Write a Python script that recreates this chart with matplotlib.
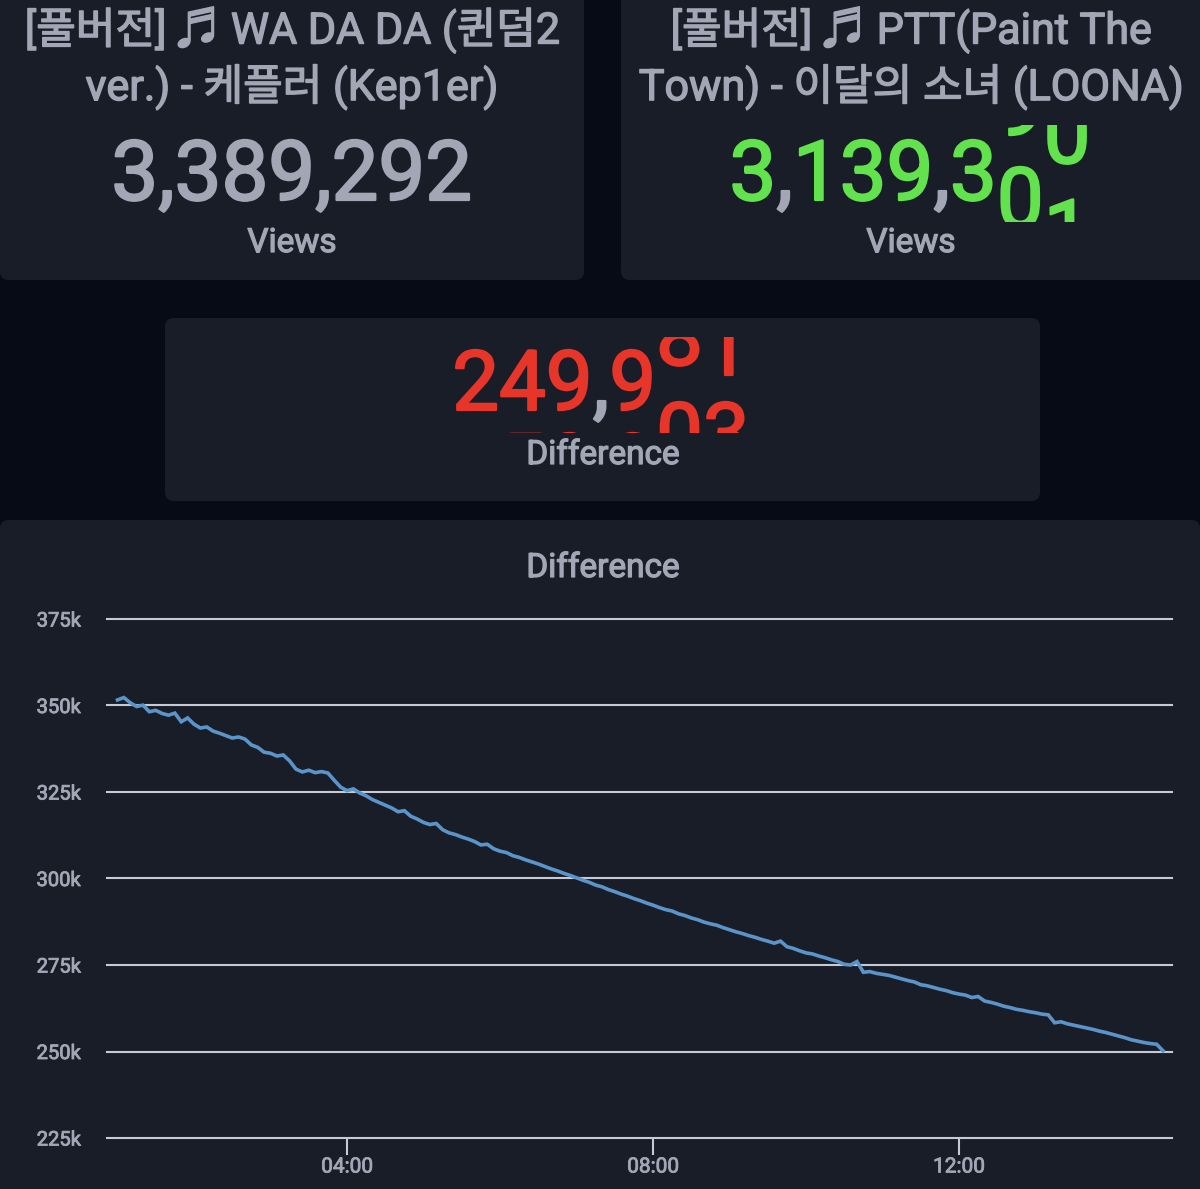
import matplotlib
matplotlib.use("Agg")
import matplotlib.pyplot as plt
import matplotlib.patheffects as pe
import numpy as np
from matplotlib.patches import FancyBboxPatch
from matplotlib.transforms import Bbox

plt.rcParams["font.family"] = ["Roboto", "Noto Sans CJK KR", "DejaVu Sans"]

# ---- data -------------------------------------------------------------
left_title = ["[풀버전] ♬ WA DA DA (퀸덤2", "ver.) - 케플러 (Kep1er)"]
right_title = ["[풀버전] ♬ PTT(Paint The", "Town) - 이달의 소녀 (LOONA)"]
left_views = "3,389,292"
# odometer state of the counters while they roll: upper / lower digit per column
right_upper = ["3", ",", "1", "3", "9", ",", "3", "9", "0"]
right_lower = ["", "", "", "", "", "", "", "0", "1"]
diff_upper = ["2", "4", "9", ",", "9", "8", "1"]
diff_lower = ["", "5", "0", "", "0", "0", "3"]

# difference (thousands of views), one value every 5 minutes from 01:00
diff_k = [
    351.6, 352.3, 350.8, 349.7, 350.1, 348.2, 348.6, 347.7, 347.2, 347.8, 345.3, 346.4,  # 01h
    344.6, 343.5, 343.8, 342.6, 342.0, 341.3, 340.6, 340.9, 340.3, 338.6, 337.9, 336.5,  # 02h
    336.2, 335.4, 335.7, 334.0, 331.6, 330.8, 331.3, 330.6, 330.9, 330.5, 328.4, 326.4,  # 03h
    325.4, 325.9, 324.7, 323.9, 322.8, 322.0, 321.2, 320.4, 319.3, 319.6, 318.0, 317.2,  # 04h
    316.2, 315.6, 315.9, 314.1, 313.2, 312.7, 312.0, 311.4, 310.7, 309.7, 309.9, 308.6,  # 05h
    307.9, 307.5, 306.6, 306.1, 305.4, 304.8, 304.2, 303.5, 302.8, 302.2, 301.5, 300.9,  # 06h
    300.2, 299.5, 298.9, 298.1, 297.6, 296.8, 296.2, 295.5, 294.9, 294.2, 293.6, 292.9,  # 07h
    292.3, 291.6, 291.0, 290.6, 289.8, 289.3, 288.6, 288.1, 287.4, 286.9, 286.5, 285.8,  # 08h
    285.2, 284.6, 284.1, 283.5, 283.0, 282.4, 281.9, 281.3, 281.9, 280.3, 279.8, 279.1,  # 09h
    278.5, 278.2, 277.6, 277.1, 276.5, 276.0, 275.2, 275.0, 276.0, 272.9, 273.1, 272.6,  # 10h
    272.3, 272.0, 271.5, 271.0, 270.5, 270.1, 269.3, 269.0, 268.5, 268.0, 267.6, 267.0,  # 11h
    266.6, 266.3, 265.6, 265.9, 264.6, 264.2, 263.7, 263.1, 262.7, 262.2, 261.9, 261.5,  # 12h
    261.2, 260.8, 260.6, 258.3, 258.6, 258.0, 257.6, 257.2, 256.8, 256.4, 255.9, 255.5,  # 13h
    255.0, 254.5, 254.0, 253.4, 253.0, 252.6, 252.3, 252.1, 250.2,                      # 14h
]
y_ticks = [225, 250, 275, 300, 325, 350, 375]
x_ticks = [4, 8, 12]
x_labels = ["04:00", "08:00", "12:00"]

hours = (60 + 5 * np.arange(len(diff_k))) / 60

# ---- styling ----------------------------------------------------------
W, H = 1200, 1189
PAGE = "#060b16"
CARD = "#181d28"
TXT = "#a2a7b5"
GREEN = "#62e24c"
RED = "#e8352a"
LINE = "#5b94c8"
GRID = "#c6cad3"


def bolder(color, lw):
    # Roboto Medium is not installed, so thicken the regular face a little
    return [pe.withStroke(linewidth=lw, foreground=color)]


fig = plt.figure(figsize=(W / 100, H / 100), dpi=100, facecolor=PAGE)
bg = fig.add_axes([0, 0, 1, 1], zorder=0)
bg.set_xlim(0, W)
bg.set_ylim(H, 0)
bg.axis("off")

for x, y, w, h in [(0, -20, 584, 300), (621, -20, 620, 300), (165, 318, 875, 183), (0, 520, 1200, 700)]:
    bg.add_patch(FancyBboxPatch((x, y), w, h, boxstyle="round,pad=0,rounding_size=9",
                                fc=CARD, ec="none"))


def clip(x0, ytop, x1, ybot):
    return Bbox.from_extents(x0, H - ybot, x1, H - ytop)


def counter(upper, lower, cx, size, color, up_base, low_base, box=None):
    em = size * 100 / 72
    widths = [0.2 * em if c == "," else 0.5615 * em for c in upper]
    x = cx - sum(widths) / 2
    for i, (u, l, w) in enumerate(zip(upper, lower, widths)):
        col = TXT if u == "," else color
        for ch, yb in [(u, up_base[i]), (l, low_base[i])]:
            if not ch:
                continue
            t = bg.text(x + w / 2, yb, ch, ha="center", va="baseline", fontsize=size,
                        color=col, path_effects=bolder(col, 1.6))
            if box is not None:
                t.set_clip_on(True)
                t.set_clip_box(box)
        x += w


# titles
for cx, lines in [(292, left_title), (911, right_title)]:
    for yc, line in zip([30, 87], lines):
        bg.text(cx, yc, line, ha="center", va="center", fontsize=31, color=TXT,
                path_effects=bolder(TXT, 1.0))
    bg.text(cx, 243, "Views", ha="center", va="center", fontsize=24, color=TXT,
            path_effects=bolder(TXT, 0.9))

# counters
size_num = 60
bg.text(292, 200, left_views, ha="center", va="baseline", fontsize=size_num, color=TXT,
        path_effects=bolder(TXT, 1.6))
counter(right_upper, right_lower, 910, size_num, GREEN,
        [200] * 7 + [135, 163], [0] * 7 + [227, 259], clip(600, 125, 1200, 222))
counter(diff_upper, diff_lower, 601, size_num, RED,
        [410, 410, 410, 410, 410, 365, 375], [0, 493, 493, 0, 493, 462, 462],
        clip(300, 337, 900, 433))

for yc in [455, 568]:
    bg.text(603, yc, "Difference", ha="center", va="center", fontsize=24, color=TXT,
            path_effects=bolder(TXT, 0.9))

# ---- chart ------------------------------------------------------------
ax = fig.add_axes([107 / W, 1 - 1138 / H, 1065 / W, 519 / H], zorder=1)
ax.set_facecolor("none")
ax.plot(hours, diff_k, color=LINE, lw=2.6, solid_joinstyle="miter")
ax.set_xlim(0.863, 14.784)
ax.set_ylim(225, 375)
ax.set_yticks(y_ticks)
ax.set_yticklabels([f"{v}k" for v in y_ticks])
ax.set_xticks(x_ticks)
ax.set_xticklabels(x_labels)
for s in ax.spines.values():
    s.set_visible(False)
ax.grid(axis="y", color=GRID, lw=1.5)
for gl in ax.get_ygridlines():
    gl.set_clip_on(False)
ax.tick_params(axis="y", length=0, pad=19, labelsize=14.5, labelcolor=TXT)
ax.tick_params(axis="x", length=12, width=1.5, color=GRID, pad=2, labelsize=15,
               labelcolor=TXT)
for lab in ax.get_xticklabels() + ax.get_yticklabels():
    lab.set_path_effects(bolder(TXT, 0.6))
ax.set_axisbelow(True)

fig.savefig("out.png", dpi=100, facecolor=PAGE)
